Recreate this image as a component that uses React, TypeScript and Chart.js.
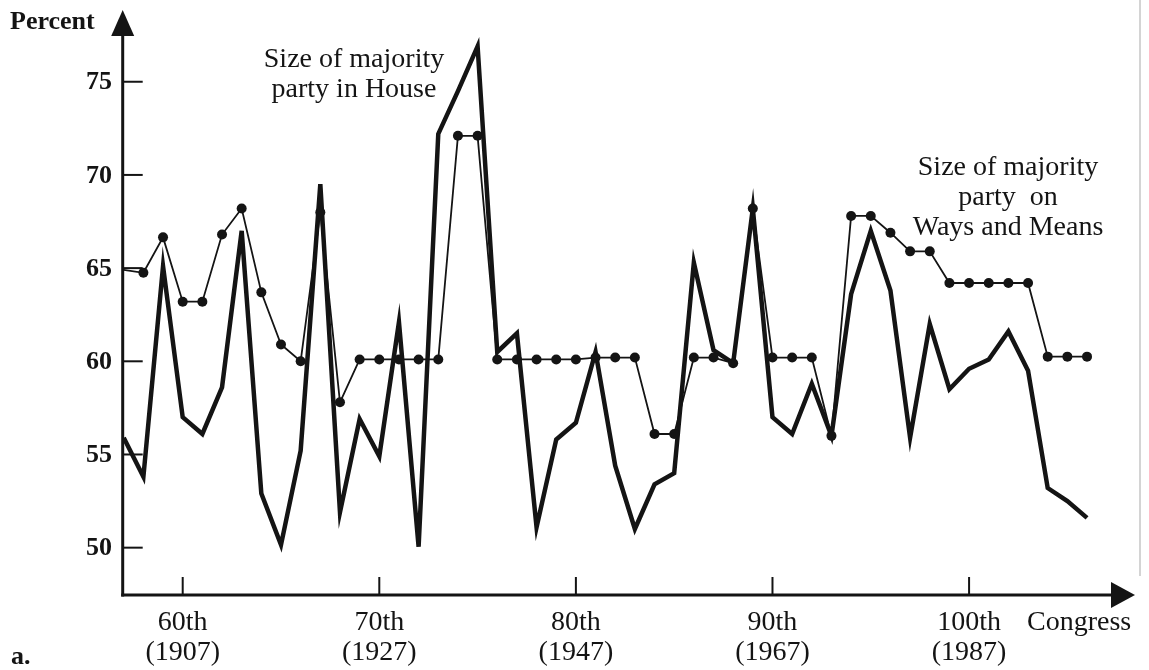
import React, { useEffect, useRef } from "react";
import { Chart, registerables } from "chart.js";

Chart.register(...registerables);

// Congress numbers (57th .. 106th)
const congresses = [
  57, 58, 59, 60, 61, 62, 63, 64, 65, 66,
  67, 68, 69, 70, 71, 72, 73, 74, 75, 76,
  77, 78, 79, 80, 81, 82, 83, 84, 85, 86,
  87, 88, 89, 90, 91, 92, 93, 94, 95, 96,
  97, 98, 99, 100, 101, 102, 103, 104, 105, 106,
];

// Size of majority party in House (percent)
const houseMajority = [
  55.9, 53.8, 65.1, 57.0, 56.1, 58.6, 67.0, 52.9, 50.15, 55.2,
  69.5, 51.9, 56.9, 54.9, 62.1, 50.05, 72.2, 74.5, 76.9, 60.5,
  61.5, 51.1, 55.8, 56.7, 60.5, 54.4, 51.0, 53.4, 54.0, 65.3,
  60.6, 59.9, 68.2, 57.0, 56.1, 58.8, 56.0, 63.6, 67.0, 63.8,
  55.9, 62.0, 58.5, 59.6, 60.1, 61.6, 59.5, 53.2, 52.5, 51.6,
];

// Size of majority party on Ways and Means (percent)
const waysAndMeans = [
  64.9, 64.75, 66.65, 63.2, 63.2, 66.8, 68.2, 63.7, 60.9, 60.0,
  68.0, 57.8, 60.1, 60.1, 60.1, 60.1, 60.1, 72.1, 72.1, 60.1,
  60.1, 60.1, 60.1, 60.1, 60.2, 60.2, 60.2, 56.1, 56.1, 60.2,
  60.2, 59.9, 68.2, 60.2, 60.2, 60.2, 56.0, 67.8, 67.8, 66.9,
  65.9, 65.9, 64.2, 64.2, 64.2, 64.2, 64.2, 60.25, 60.25, 60.25,
];

const yTicks = [50, 55, 60, 65, 70, 75];
const xTicks = [60, 70, 80, 90, 100];
const xTickLabels = ["60th", "70th", "80th", "90th", "100th"];
const xTickYears = ["(1907)", "(1927)", "(1947)", "(1967)", "(1987)"];

const houseNote = ["Size of majority", "party in House"];
const waysNote = ["Size of majority", "party  on", "Ways and Means"];

const SERIF = "'Liberation Serif', 'Times New Roman', serif";
const INK = "#141414";

const axesPlugin = {
  id: "bookAxes",
  beforeDatasetsDraw(chart: any) {
    const { ctx, chartArea, scales } = chart;
    const xs = scales.x;
    const ys = scales.y;
    const x0 = chartArea.left;
    const y0 = chartArea.bottom;
    ctx.save();
    // page edge artifact
    ctx.strokeStyle = "#d4d4d4";
    ctx.lineWidth = 2;
    ctx.beginPath();
    ctx.moveTo(1140, 0);
    ctx.lineTo(1140, 576);
    ctx.stroke();

    ctx.strokeStyle = INK;
    ctx.fillStyle = INK;
    ctx.lineWidth = 3;
    // y axis
    ctx.beginPath();
    ctx.moveTo(x0, y0 + 1.5);
    ctx.lineTo(x0, chartArea.top + 20);
    ctx.stroke();
    ctx.beginPath();
    ctx.moveTo(x0, chartArea.top);
    ctx.lineTo(x0 - 11.5, chartArea.top + 26);
    ctx.lineTo(x0 + 11.5, chartArea.top + 26);
    ctx.closePath();
    ctx.fill();
    // x axis
    ctx.beginPath();
    ctx.moveTo(x0 - 1.5, y0);
    ctx.lineTo(chartArea.right - 20, y0);
    ctx.stroke();
    ctx.beginPath();
    ctx.moveTo(chartArea.right, y0);
    ctx.lineTo(chartArea.right - 24, y0 - 13);
    ctx.lineTo(chartArea.right - 24, y0 + 13);
    ctx.closePath();
    ctx.fill();

    // ticks
    ctx.lineWidth = 2;
    yTicks.forEach((v) => {
      const py = ys.getPixelForValue(v);
      ctx.beginPath();
      ctx.moveTo(x0, py);
      ctx.lineTo(x0 + 20, py);
      ctx.stroke();
    });
    xTicks.forEach((v) => {
      const px = xs.getPixelForValue(v);
      ctx.beginPath();
      ctx.moveTo(px, y0);
      ctx.lineTo(px, y0 - 18);
      ctx.stroke();
    });

    // y tick labels
    ctx.font = `bold 26px ${SERIF}`;
    ctx.textAlign = "right";
    ctx.textBaseline = "middle";
    yTicks.forEach((v) => {
      ctx.fillText(String(v), 112, ys.getPixelForValue(v) + 1);
    });

    // x tick labels
    ctx.font = `28px ${SERIF}`;
    ctx.textAlign = "center";
    ctx.textBaseline = "alphabetic";
    xTicks.forEach((v, i) => {
      const px = xs.getPixelForValue(v);
      ctx.fillText(xTickLabels[i], px, 630);
      ctx.fillText(xTickYears[i], px, 660);
    });
    ctx.textAlign = "left";
    ctx.fillText("Congress", 1027, 630);

    // axis title
    ctx.font = `bold 26px ${SERIF}`;
    ctx.fillText("Percent", 10, 29);

    // panel letter
    ctx.font = `bold 26px ${SERIF}`;
    ctx.fillText("a.", 11, 664);

    // annotations
    ctx.font = `28px ${SERIF}`;
    ctx.textAlign = "center";
    houseNote.forEach((t, i) => ctx.fillText(t, 354, 67 + i * 30));
    waysNote.forEach((t, i) => ctx.fillText(t, 1008, 175 + i * 30));
    ctx.restore();
  },
};

export default function App() {
  const canvasRef = useRef<HTMLCanvasElement | null>(null);

  useEffect(() => {
    const canvas = canvasRef.current;
    if (!canvas) return;
    const housePts = congresses.map((c, i) => ({ x: c, y: houseMajority[i] }));
    const waysPts = congresses.map((c, i) => ({ x: c, y: waysAndMeans[i] }));
    const chart = new Chart(canvas, {
      type: "line",
      data: {
        datasets: [
          {
            label: "Size of majority party on Ways and Means",
            data: waysPts,
            borderColor: INK,
            backgroundColor: INK,
            borderWidth: 1.8,
            pointRadius: congresses.map((_, i) => (i === 0 ? 0 : 5)),
            pointBackgroundColor: INK,
            pointBorderWidth: 0,
            tension: 0,
            fill: false,
          },
          {
            label: "Size of majority party in House",
            data: housePts,
            borderColor: INK,
            borderWidth: 4.5,
            borderJoinStyle: "miter",
            pointRadius: 0,
            tension: 0,
            fill: false,
          },
        ],
      },
      options: {
        animation: false,
        responsive: false,
        devicePixelRatio: 1,
        layout: { padding: { left: 122.7, right: 14, top: 10, bottom: 75 } },
        plugins: {
          legend: { display: false },
          tooltip: { enabled: false },
          title: { display: false },
        },
        scales: {
          x: { type: "linear", display: false, min: 56.948, max: 108.44 },
          y: { type: "linear", display: false, min: 47.46, max: 78.85 },
        },
      },
      plugins: [axesPlugin],
    });
    return () => chart.destroy();
  }, []);

  return (
    <div
      style={{
        position: "fixed",
        left: 0,
        top: 0,
        width: 1149,
        height: 670,
        background: "#ffffff",
      }}
    >
      <canvas ref={canvasRef} width={1149} height={670} style={{ display: "block" }} />
    </div>
  );
}
